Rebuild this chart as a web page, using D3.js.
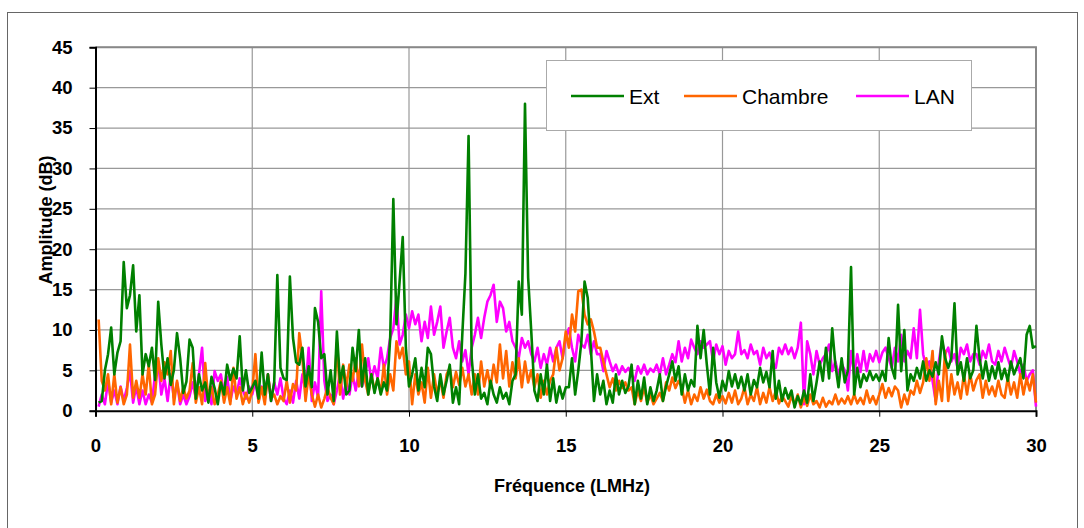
<!DOCTYPE html>
<html>
<head>
<meta charset="utf-8">
<script src="https://cdn.jsdelivr.net/npm/d3@7"></script>
<style>
  body { margin: 0; background: #fff; }
  svg { display: block; font-family: Arial, "Liberation Sans", sans-serif; }
</style>
</head>
<body>
<main></main>
<script>
// Spectrum sampled every 0.1 MHz, from 0.1 to 30 MHz (one row per MHz)
const freqs = d3.range(1, 301).map(i => i / 10);

const ext = [
  1.0,1.2,5.0,7.0,10.3,4.5,7.2,8.6,18.4,12.7,
  14.3,18.0,9.8,14.3,4.5,7.0,5.5,7.8,3.8,13.5,
  8.2,4.0,6.5,3.2,5.0,9.6,6.5,2.2,3.6,8.8,
  7.8,1.5,4.5,2.5,3.5,1.0,4.2,2.8,0.8,3.5,
  2.0,5.7,3.8,5.2,4.0,9.2,2.5,5.0,2.2,2.9,
  3.7,1.5,7.2,2.0,4.5,1.2,3.5,16.8,5.3,4.0,
  3.8,16.6,9.0,6.0,5.7,7.8,3.0,5.5,2.9,12.7,
  11.0,6.5,7.0,2.0,5.0,1.2,9.8,3.5,5.5,2.0,
  2.5,7.8,4.9,10.0,3.0,6.5,2.0,4.5,2.2,4.0,
  2.0,3.5,2.5,9.0,26.2,10.7,16.0,21.5,7.8,3.0,
  4.5,6.5,2.5,5.3,2.9,7.8,7.0,3.0,1.2,4.5,
  2.0,3.7,5.7,1.0,2.9,0.8,9.4,17.0,34.0,6.5,
  2.0,4.5,1.5,2.2,0.8,3.7,2.0,1.0,2.9,1.5,
  2.2,0.8,3.7,4.5,16.0,11.9,38.0,16.5,9.8,2.5,
  1.2,4.5,2.0,5.7,1.2,4.0,1.0,3.0,1.5,2.9,
  2.9,6.5,2.0,5.0,8.6,16.0,14.0,7.8,1.2,4.5,
  2.0,3.7,0.8,2.5,1.0,4.5,2.0,3.7,2.2,3.0,
  5.7,0.8,3.7,1.5,4.1,0.8,2.9,1.2,2.5,4.5,
  1.2,3.0,4.5,6.1,3.7,5.5,2.0,4.5,2.5,3.8,
  3.0,10.5,6.5,10.0,5.7,2.0,7.8,3.5,1.6,3.7,
  2.5,4.9,3.0,4.5,2.8,4.2,2.5,4.5,2.0,3.8,
  2.9,5.3,3.5,4.8,2.9,7.4,1.5,3.7,1.2,2.8,
  1.5,2.5,0.4,1.8,0.8,2.5,1.0,4.5,1.2,3.5,
  6.1,3.7,7.8,4.0,10.2,5.7,2.9,6.5,3.5,5.0,
  17.8,2.0,5.3,2.9,4.5,3.7,4.9,3.8,4.5,3.7,
  4.9,3.7,9.0,5.3,4.0,13.1,4.9,10.0,2.5,4.5,
  3.7,5.3,4.0,6.1,3.7,5.0,4.2,6.0,4.5,9.2,
  6.5,5.3,6.5,13.3,4.5,6.0,3.7,6.5,4.0,5.0,
  10.5,6.5,4.0,6.1,3.7,5.5,4.0,6.0,3.9,5.2,
  3.7,6.1,4.5,5.5,6.5,4.0,9.4,10.5,7.8,8.0
];

const chambre = [
  11.3,3.7,2.5,4.5,0.8,4.5,1.0,2.9,0.8,2.0,
  8.2,1.6,3.7,1.6,4.5,2.0,5.7,0.8,2.0,6.5,
  3.7,6.0,4.5,7.4,0.8,3.7,1.2,2.9,1.5,2.5,
  5.9,1.0,2.9,0.8,5.9,1.2,2.9,0.8,2.0,3.7,
  1.0,2.9,0.8,5.3,1.5,2.9,0.8,2.2,1.0,2.5,
  7.0,1.0,2.9,0.8,4.5,1.5,2.0,0.8,1.8,1.2,
  3.7,1.0,3.3,2.5,9.6,6.5,1.2,4.5,2.0,0.5,
  2.0,0.4,1.5,2.9,1.6,0.8,8.4,2.0,5.7,3.0,
  5.7,3.7,6.5,3.0,8.2,3.7,2.0,4.5,2.5,4.0,
  2.2,5.7,2.0,4.5,2.5,8.6,6.5,7.8,4.5,6.1,
  0.8,4.5,2.0,3.5,1.0,5.3,1.6,4.5,2.0,3.8,
  1.6,4.5,5.3,2.9,4.8,3.2,5.3,3.0,4.5,2.0,
  4.5,2.0,6.1,3.0,5.0,2.9,5.7,3.5,8.2,4.0,
  7.4,3.0,6.0,4.0,6.5,2.9,6.1,3.5,5.0,2.9,
  4.5,1.6,3.7,2.0,3.7,4.5,7.8,5.0,6.5,9.8,
  7.8,11.9,9.8,14.8,15.0,11.9,10.7,11.3,9.8,7.8,
  7.8,6.1,4.5,2.9,4.0,2.5,3.7,2.8,3.5,2.5,
  2.9,0.8,2.5,1.2,2.9,1.0,2.0,0.8,1.5,2.2,
  1.2,3.5,2.5,4.1,2.8,3.7,2.9,1.0,2.5,0.8,
  2.0,1.2,2.9,1.5,2.6,1.2,0.8,2.0,1.0,1.8,
  0.9,2.2,1.0,2.5,0.8,1.5,2.9,0.8,2.0,1.2,
  2.9,0.8,2.2,1.0,2.9,1.2,2.5,0.9,1.8,1.2,
  0.5,1.8,0.8,2.0,0.4,1.6,0.6,2.0,0.8,1.2,
  0.4,1.6,0.5,1.2,0.8,2.0,0.8,1.5,0.9,1.8,
  0.8,2.0,0.9,1.6,0.8,2.5,1.0,1.8,0.8,2.0,
  3.3,1.6,2.8,1.8,3.0,2.5,0.4,2.0,0.8,2.5,
  2.0,3.7,2.2,3.5,6.5,3.7,7.4,0.8,3.7,1.2,
  7.4,1.2,4.5,2.0,3.5,1.5,4.5,2.0,4.5,2.5,
  3.8,4.5,1.6,3.7,2.0,3.0,1.8,3.7,2.0,1.6,
  4.1,2.0,3.5,1.6,4.5,2.0,4.0,2.5,4.5,1.0
];

const lan = [
  0.5,2.0,0.8,3.7,1.0,2.5,0.8,3.0,1.2,2.8,
  4.9,1.0,3.0,0.8,2.5,0.8,2.0,1.0,4.5,6.1,
  2.0,4.0,1.2,4.5,1.6,3.5,0.8,2.0,0.8,1.8,
  3.5,1.6,4.5,7.8,1.2,2.5,0.8,4.9,3.7,4.5,
  2.0,4.2,1.2,3.0,2.0,4.0,2.5,1.5,3.0,2.0,
  3.7,1.2,3.0,1.5,4.5,1.2,3.5,2.0,4.0,1.5,
  0.8,2.5,1.0,3.7,1.5,4.5,2.5,7.8,1.2,3.5,
  1.6,14.8,3.7,1.2,2.0,0.8,2.5,4.5,1.5,3.8,
  2.0,4.5,2.5,4.9,3.0,4.5,6.5,3.7,5.5,4.0,
  7.8,5.3,6.5,9.0,10.2,14.1,8.2,9.4,11.9,10.2,
  12.3,10.7,11.9,8.6,11.0,9.0,12.9,9.4,11.0,12.9,
  7.8,9.8,11.5,7.8,6.5,8.6,6.1,7.5,4.5,7.8,
  9.4,11.5,9.0,11.5,13.5,14.3,15.6,11.0,13.5,12.7,
  9.8,11.0,8.6,7.8,6.5,9.0,7.8,8.6,7.0,6.1,
  7.8,5.3,7.0,5.7,7.8,6.1,7.8,8.6,6.5,9.0,
  10.2,7.8,6.1,9.4,8.2,7.8,9.4,7.0,8.6,7.0,
  7.0,4.9,7.4,6.1,4.9,5.7,4.5,5.5,4.8,5.3,
  4.5,3.7,5.5,4.6,5.7,4.5,5.2,4.8,5.7,4.5,
  6.5,4.5,5.7,7.0,6.0,8.6,6.1,7.8,6.5,8.8,
  7.8,7.0,8.6,7.8,8.2,8.6,6.1,8.2,7.0,8.0,
  5.7,7.4,6.5,7.0,9.8,7.0,7.5,6.5,8.2,7.0,
  7.4,5.7,7.8,6.5,7.2,6.0,5.3,7.8,7.0,8.2,
  7.0,7.8,6.5,7.8,10.9,0.8,8.6,7.0,4.5,7.4,
  5.7,6.5,7.0,8.2,4.9,6.1,4.5,5.8,5.0,2.5,
  7.4,4.5,7.0,4.8,7.4,4.9,7.0,6.1,7.4,6.0,
  7.2,7.8,6.5,5.3,7.8,6.1,9.4,6.1,7.4,6.5,
  10.2,6.5,12.5,7.0,5.3,6.1,3.7,1.2,6.1,8.6,
  7.0,7.8,6.1,7.0,5.3,7.8,7.0,8.2,6.1,7.0,
  7.0,5.7,7.4,6.5,8.2,6.1,5.7,7.4,6.1,7.8,
  6.5,5.3,7.4,6.1,4.5,5.7,3.7,4.5,5.0,0.5
];

const seriesNames = ['Ext', 'Chambre', 'LAN'];
const seriesColors = ['#008000', '#ff6600', '#ff00ff'];
const xTicks = [0, 5, 10, 15, 20, 25, 30];
const yTicks = [0, 5, 10, 15, 20, 25, 30, 35, 40, 45];

const width = 1084, height = 528;
const svg = d3.select('main').append('svg')
    .attr('width', width)
    .attr('height', height);

svg.append('rect').attr('width', width).attr('height', height).attr('fill', '#fff');

// outer chart frame
svg.append('rect')
    .attr('x', 7.5).attr('y', 12.5)
    .attr('width', 1070).attr('height', 530)
    .attr('fill', 'none')
    .attr('stroke', '#666')
    .attr('stroke-width', 1);

const x = d3.scaleLinear().domain([0, 30]).range([95.5, 1036]);
const y = d3.scaleLinear().domain([0, 45]).range([410.7, 47.3]);

// gridlines
svg.append('g')
    .selectAll('line')
    .data(yTicks.slice(1))
    .join('line')
    .attr('x1', x(0)).attr('x2', x(30))
    .attr('y1', d => y(d)).attr('y2', d => y(d))
    .attr('stroke', '#999')
    .attr('stroke-width', 1.2);

svg.append('g')
    .selectAll('line')
    .data(xTicks.slice(1))
    .join('line')
    .attr('x1', d => x(d)).attr('x2', d => x(d))
    .attr('y1', y(0)).attr('y2', y(45))
    .attr('stroke', '#999')
    .attr('stroke-width', 1.2);

// plot border top / right
svg.append('path')
    .attr('d', `M${x(0)},${y(45)}H${x(30)}V${y(0)}`)
    .attr('fill', 'none')
    .attr('stroke', '#888')
    .attr('stroke-width', 2);

// axes
const yAxis = d3.axisLeft(y).tickValues(yTicks).tickSize(6).tickPadding(17);
const xAxis = d3.axisBottom(x).tickValues(xTicks).tickSize(6).tickPadding(22);

const gy = svg.append('g').attr('transform', `translate(${x(0)},0)`).call(yAxis);
const gx = svg.append('g').attr('transform', `translate(0,${y(0)})`).call(xAxis);

[gx, gy].forEach(g => {
    g.select('.domain').attr('stroke', '#000').attr('stroke-width', 2);
    g.selectAll('.tick line').attr('stroke', '#000').attr('stroke-width', 1);
    g.selectAll('.tick text')
        .attr('fill', '#000')
        .style('font-family', 'Arial, "Liberation Sans", sans-serif')
        .style('font-size', '18.5px')
        .style('font-weight', 'bold');
});

// series lines (Ext drawn last so its peaks sit on top)
const line = d3.line()
    .x((d, i) => x(freqs[i]))
    .y(d => y(d));

const seriesData = [ext, chambre, lan];
[2, 1, 0].forEach(k => {
    svg.append('path')
        .datum(seriesData[k])
        .attr('fill', 'none')
        .attr('stroke', seriesColors[k])
        .attr('stroke-width', 2.6)
        .attr('stroke-linejoin', 'round')
        .attr('d', line);
});

// axis titles
svg.append('text')
    .attr('x', 572).attr('y', 492)
    .attr('text-anchor', 'middle')
    .style('font-size', '18px')
    .style('font-weight', 'bold')
    .text('Fréquence (LMHz)');

svg.append('text')
    .attr('transform', 'translate(52,220) rotate(-90)')
    .attr('text-anchor', 'middle')
    .style('font-size', '18px')
    .style('font-weight', 'bold')
    .text('Amplitude (dB)');

// legend
const legend = svg.append('g');
legend.append('rect')
    .attr('x', 546.5).attr('y', 60.5)
    .attr('width', 425).attr('height', 70)
    .attr('fill', '#fff')
    .attr('stroke', '#aaa')
    .attr('stroke-width', 1);

const legendX = [571, 684, 856];
seriesNames.forEach((name, k) => {
    legend.append('line')
        .attr('x1', legendX[k]).attr('x2', legendX[k] + 53)
        .attr('y1', 96).attr('y2', 96)
        .attr('stroke', seriesColors[k])
        .attr('stroke-width', 2.5);
    legend.append('text')
        .attr('x', legendX[k] + 58).attr('y', 103.5)
        .style('font-size', '21px')
        .text(name);
});
</script>
</body>
</html>
